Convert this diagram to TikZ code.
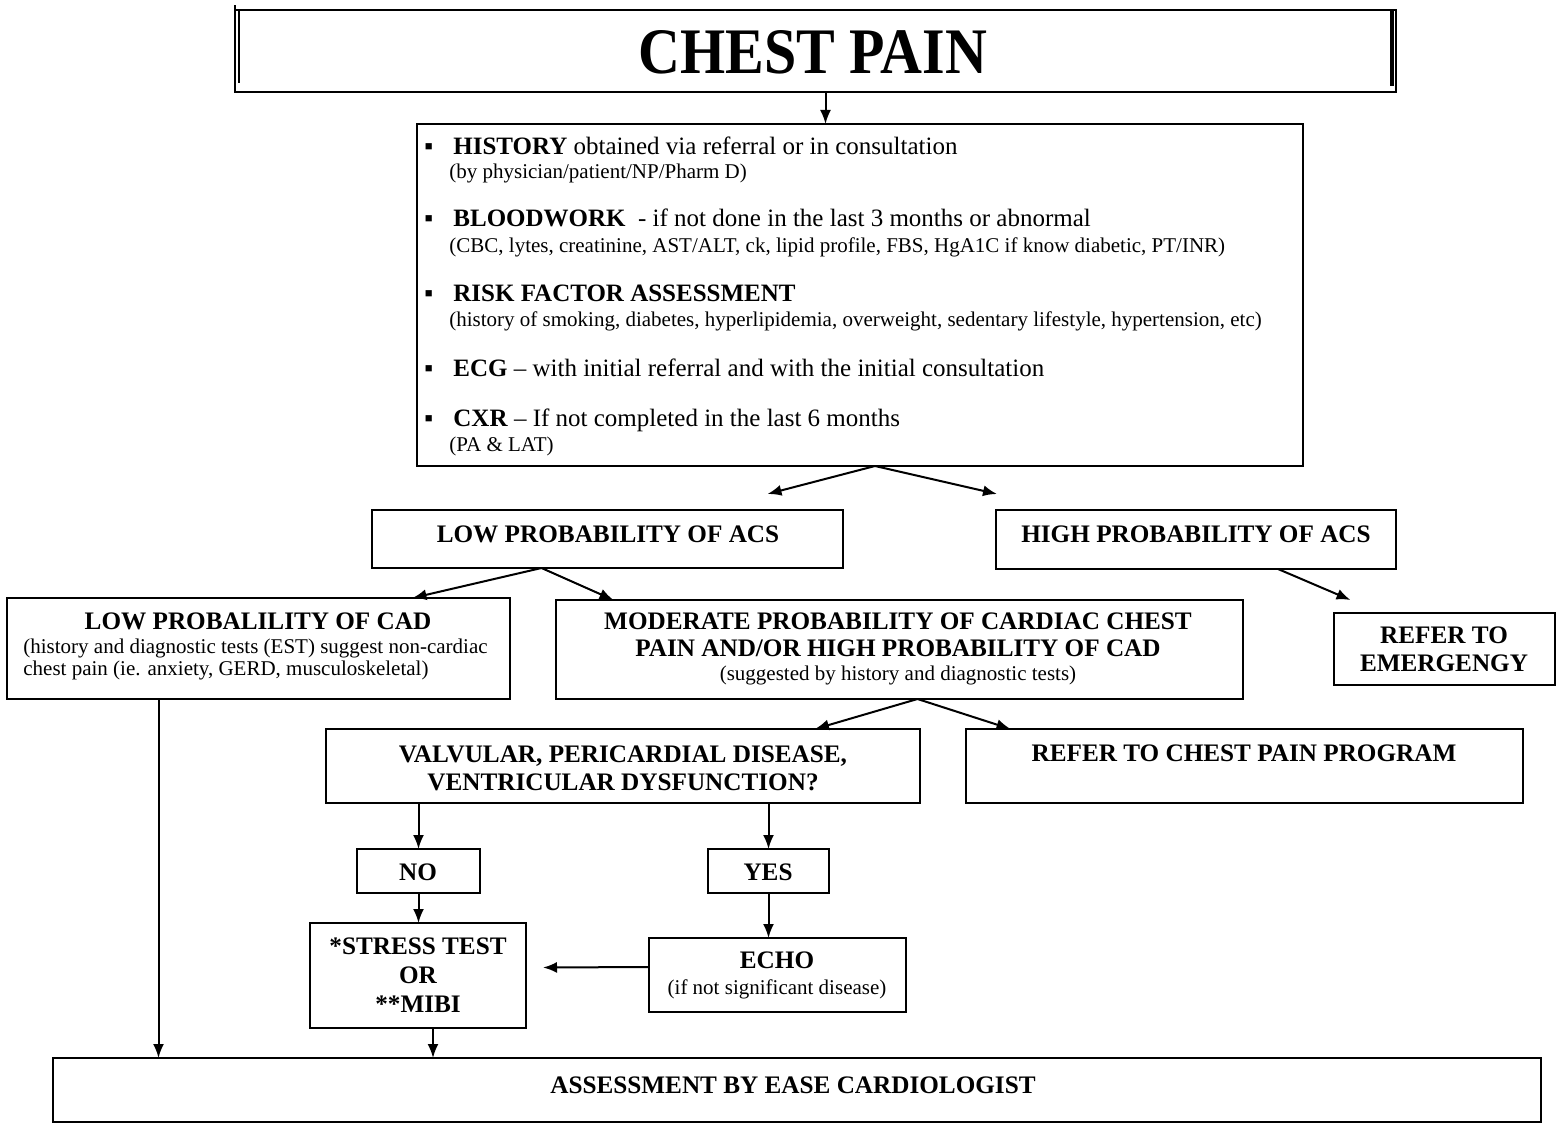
\documentclass[tikz,border=0pt]{standalone}
\usepackage{fontspec}
\setmainfont{Liberation Serif}
\usetikzlibrary{arrows.meta,calc}

% rectangle spanning (x1,y1)-(x2,y2), named #1
\newcommand\flowbox[5]{%
  \node[box, minimum width={(#4-#2)*0.5pt}, minimum height={(#5-#3)*0.5pt}]
    (#1) at ({(#2+#4)/2},{(#3+#5)/2}) {};}
\newcommand\itembullet{\makebox[14.5pt][l]{▪}}

\begin{document}
\begin{tikzpicture}[x=0.5pt,y=-0.5pt,
  box/.style={draw,line width=1pt,inner sep=0pt,outer sep=0pt},
  arr/.style={line width=1pt,-{Latex[length=7pt,width=5.5pt]}},
  hd/.style={anchor=base,inner sep=0pt,font=\bfseries\fontsize{12.6}{15}\selectfont},
  bigtitle/.style={anchor=base,inner sep=0pt,font=\bfseries\fontsize{29}{34}\selectfont},
  item/.style={anchor=base west,inner sep=0pt,font=\fontsize{12.5}{15}\selectfont},
  note/.style={anchor=base west,inner sep=0pt,font=\fontsize{10.5}{12.5}\selectfont},
  cnote/.style={anchor=base,inner sep=0pt,font=\fontsize{10.5}{12.5}\selectfont},
]
\useasboundingbox (0,0) rectangle (1561,1128);

% ---------- boxes ----------
\flowbox{title}{235}{10}{1396}{92}
\flowbox{hist}{417}{124}{1303}{466}
\flowbox{lowacs}{372}{510}{843}{568}
\flowbox{highacs}{996}{510}{1396}{569}
\flowbox{lowcad}{7}{598}{510}{699}
\flowbox{moder}{556}{600}{1243}{699}
\flowbox{emerg}{1334}{613}{1555}{685}
\flowbox{valv}{326}{729}{920}{803}
\flowbox{program}{966}{729}{1523}{803}
\flowbox{no}{357}{849}{480}{893}
\flowbox{yes}{708}{849}{829}{893}
\flowbox{stress}{310}{923}{526}{1028}
\flowbox{echo}{649}{938}{906}{1012}
\flowbox{assess}{53}{1058}{1541}{1122}

% doubled side rules of the title frame
\draw[line width=0.9pt] ($(title.north west)+(4,0)$) -- ($(title.north west)+(4,73)$);
\draw[line width=0.9pt] ($(title.north west)+(0,0)$) -- ($(title.north west)+(0,-5)$);
\draw[line width=1.6pt] ($(title.north east)+(-4,0)$) -- ($(title.north east)+(-4,76)$);

% ---------- texts ----------
\node[bigtitle] (t0) at (813,74) {\scalebox{1}[1.12]{CHEST PAIN}};

\node[item] (h1) at (424,155) {\itembullet\textbf{HISTORY} obtained via referral or in consultation};
\node[note] (h1s) at (449,179) {(by physician/patient/NP/Pharm D)};
\node[item] (h2) at (424,227) {\itembullet\textbf{BLOODWORK}\ \ - if not done in the last 3 months or abnormal};
\node[note] (h2s) at (449,253) {(CBC, lytes, creatinine, AST/ALT, ck, lipid profile, FBS, HgA1C if know diabetic, PT/INR)};
\node[item] (h3) at (424,301) {\itembullet\textbf{RISK FACTOR ASSESSMENT}};
\node[note] (h3s) at (449,327) {(history of smoking, diabetes, hyperlipidemia, overweight, sedentary lifestyle, hypertension, etc)};
\node[item] (h4) at (424,376) {\itembullet\textbf{ECG} – with initial referral and with the initial consultation};
\node[item] (h5) at (424,426) {\itembullet\textbf{CXR} – If not completed in the last 6 months};
\node[note] (h5s) at (449,451) {(PA \& LAT)};

\node[hd] (t1) at (608,542) {LOW PROBABILITY OF ACS};
\node[hd] (t2) at (1196,542) {HIGH PROBABILITY OF ACS};

\node[hd] (t3) at (258,629) {LOW PROBALILITY OF CAD};
\node[note] (t3a) at (23,653) {(history and diagnostic tests (EST) suggest non-cardiac};
\node[note] (t3b) at (23,675) {chest pain (ie. anxiety, GERD, musculoskeletal)};

\node[hd] (t4a) at (898,629) {MODERATE PROBABILITY OF CARDIAC CHEST};
\node[hd] (t4b) at (898,656) {PAIN AND/OR HIGH PROBABILITY OF CAD};
\node[cnote] (t4c) at (898,680) {(suggested by history and diagnostic tests)};

\node[hd] (t5a) at (1444,643) {REFER TO};
\node[hd] (t5b) at (1444,671) {EMERGENGY};

\node[hd] (t6a) at (623,762) {VALVULAR, PERICARDIAL DISEASE,};
\node[hd] (t6b) at (623,790) {VENTRICULAR DYSFUNCTION?};
\node[hd] (t7) at (1244,761) {REFER TO CHEST PAIN PROGRAM};

\node[hd] (t8) at (418,880) {NO};
\node[hd] (t9) at (768,880) {YES};

\node[hd] (t10a) at (418,954) {*STRESS TEST};
\node[hd] (t10b) at (418,983) {OR};
\node[hd] (t10c) at (418,1012) {**MIBI};

\node[hd] (t11a) at (777,968) {ECHO};
\node[cnote] (t11b) at (777,994) {(if not significant disease)};

\node[hd] (t12) at (793,1093) {ASSESSMENT BY EASE CARDIOLOGIST};

% ---------- connectors ----------
\coordinate (titleout) at ($(title.south)+(10,0)$);
\coordinate (histout) at ($(hist.south)+(15,0)$);
\coordinate (lowacsout) at ($(lowacs.south)+(-66,0)$);
\coordinate (highacsout) at ($(highacs.south)+(82,0)$);
\coordinate (moderout) at ($(moder.south)+(18,0)$);
\coordinate (stressout) at ($(stress.south)+(15,0)$);
\coordinate (lowcadout) at ($(lowcad.south)+(-100,0)$);
\coordinate (echoout) at ($(echo.west)+(0,-8)$);

\draw[arr] (titleout) -- (titleout |- hist.north);
\draw[arr] (histout) -- ($(lowacs.north)+(160,-16)$);
\draw[arr] (histout) -- ($(highacs.north)+(-199,-16)$);

\draw[arr] (lowacsout) -- ($(lowcad.north)+(154,0)$);
\draw[arr] (lowacsout) -- ($(moder.north)+(-286,0)$);
\draw[arr] (highacsout) -- ($(emerg.north)+(-94,-13)$);

\draw[arr] (moderout) -- ($(valv.north)+(192,0)$);
\draw[arr] (moderout) -- ($(program.north)+(-234,0)$);

\draw[arr] (no.north |- valv.south) -- (no.north);
\draw[arr] (yes.north |- valv.south) -- (yes.north);
\draw[arr] (no.south) -- (no.south |- stress.north);
\draw[arr] (yes.south) -- (yes.south |- echo.north);
\draw[arr] (echoout) -- ($(stress.east)+(17,-8)$);
\draw[arr] (stressout) -- (stressout |- assess.north);
\draw[arr] (lowcadout) -- (lowcadout |- assess.north);
\end{tikzpicture}
\end{document}
